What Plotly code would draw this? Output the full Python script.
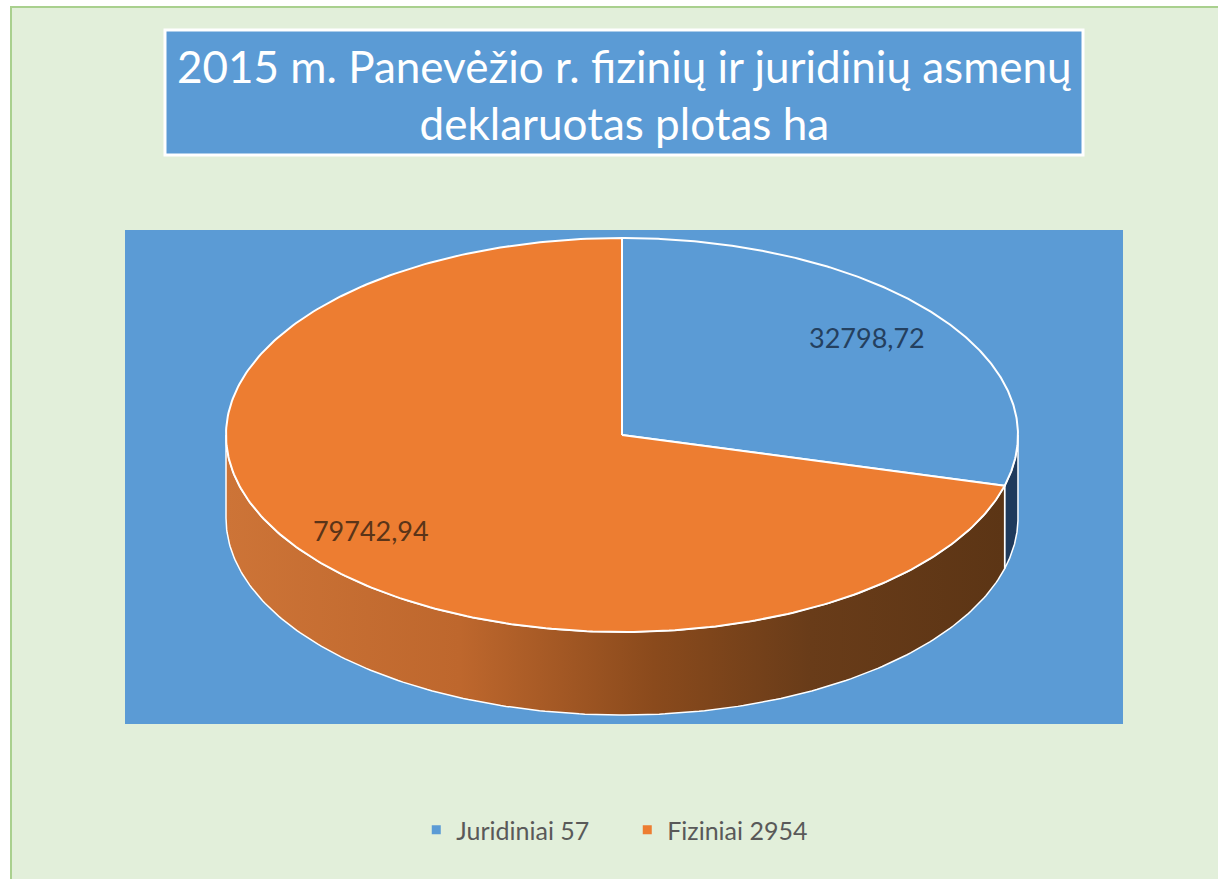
import numpy as np
import plotly.graph_objects as go

# ---- data ----
categories = ["Juridiniai 57", "Fiziniai 2954"]
values = [32798.72, 79742.94]
title_text = "2015 m. Panevėžio r. fizinių ir juridinių asmenų<br>deklaruotas plotas ha"

top_colors = ["#5B9BD5", "#ED7D31"]
side_colors = ["#1F3A5C", None]
orange_side_scale = [[0, "#CD7437"], [0.3, "#BE672D"], [0.55, "#8A4A1C"], [0.75, "#693C19"], [1, "#5C3515"]]
label_colors = ["#24405F", "#5A3418"]

W, H = 1218, 879
CX, CY, RX, RY, DEPTH = 622, 435, 396, 197, 83

def pt(t, dy=0.0, k=1.0):
    return CX + k * RX * np.sin(t), CY - k * RY * np.cos(t) + dy

fig = go.Figure()

total = sum(values)
cum = np.concatenate([[0], np.cumsum(values)]) / total * 2 * np.pi

# side walls (visible front half: pi/2 .. 3pi/2)
for i in range(len(values)):
    a, b = max(cum[i], np.pi / 2), min(cum[i + 1], 3 * np.pi / 2)
    if b <= a:
        continue
    t = np.linspace(a, b, 200)
    xs_top, ys_top = pt(t)
    xs_bot, ys_bot = pt(t[::-1], DEPTH)
    xs = np.concatenate([xs_top, xs_bot, xs_top[:1]])
    ys = np.concatenate([ys_top, ys_bot, ys_top[:1]])
    kw = dict(fill="toself", mode="lines", line=dict(color="white", width=1.5),
              hoverinfo="skip", showlegend=False)
    if side_colors[i] is None:
        kw["fillgradient"] = dict(type="horizontal", colorscale=orange_side_scale)
    else:
        kw["fillcolor"] = side_colors[i]
    fig.add_trace(go.Scatter(x=xs, y=ys, **kw))

# top face slices
for i in range(len(values)):
    t = np.linspace(cum[i], cum[i + 1], 300)
    xa, ya = pt(t)
    xs = np.concatenate([[CX], xa, [CX]])
    ys = np.concatenate([[CY], ya, [CY]])
    fig.add_trace(go.Scatter(x=xs, y=ys, fill="toself", fillcolor=top_colors[i], mode="lines",
                             line=dict(color="white", width=2), hoverinfo="skip", showlegend=False))

# data labels
label_k = [0.78, 0.8]
for i in range(len(values)):
    mid = (cum[i] + cum[i + 1]) / 2
    lx, ly = pt(mid, k=label_k[i])
    fig.add_trace(go.Scatter(x=[lx], y=[ly + (3 if i == 1 else 0)], mode="text",
                             text=[f"{values[i]:.2f}".replace(".", ",")],
                             textfont=dict(family="Lato", size=27, color=label_colors[i]),
                             hoverinfo="skip", showlegend=False))

# legend entries
for i in range(len(values)):
    fig.add_trace(go.Scatter(x=[None], y=[None], mode="markers", name=categories[i],
                             marker=dict(symbol="square", size=9, color=top_colors[i])))

shapes = [
    dict(type="rect", xref="x", yref="y", x0=11, y0=7, x1=W + 20, y1=H + 20,
         fillcolor="#E2EFDA", line=dict(color="#A9D08E", width=2), layer="below"),
    dict(type="rect", xref="x", yref="y", x0=125, y0=230, x1=1123, y1=724,
         fillcolor="#5B9BD5", line=dict(width=0), layer="below"),
    dict(type="rect", xref="x", yref="y", x0=165, y0=30, x1=1083, y1=155,
         fillcolor="#5B9BD5", line=dict(color="white", width=3), layer="below"),
]

fig.update_layout(
    width=W, height=H, margin=dict(l=0, r=0, t=0, b=0),
    paper_bgcolor="white", plot_bgcolor="rgba(0,0,0,0)",
    xaxis=dict(range=[0, W], visible=False, fixedrange=True, domain=[0, 1]),
    yaxis=dict(range=[H, 0], visible=False, fixedrange=True, domain=[0, 1]),
    shapes=shapes,
    annotations=[dict(x=624, y=94, xref="x", yref="y", text=title_text, showarrow=False,
                      font=dict(family="Lato", size=44, color="white"), align="center")],
    legend=dict(orientation="h", x=0.515, xanchor="center", y=1 - 830 / H, yanchor="middle",
                font=dict(family="Lato", size=25, color="#595959"), bgcolor="rgba(0,0,0,0)",
                itemwidth=30, entrywidth=166, entrywidthmode="pixels"),
    hovermode=False,
)

fig.write_html("out.html", config={"displayModeBar": False},
               post_script="document.body.style.margin='0';")
